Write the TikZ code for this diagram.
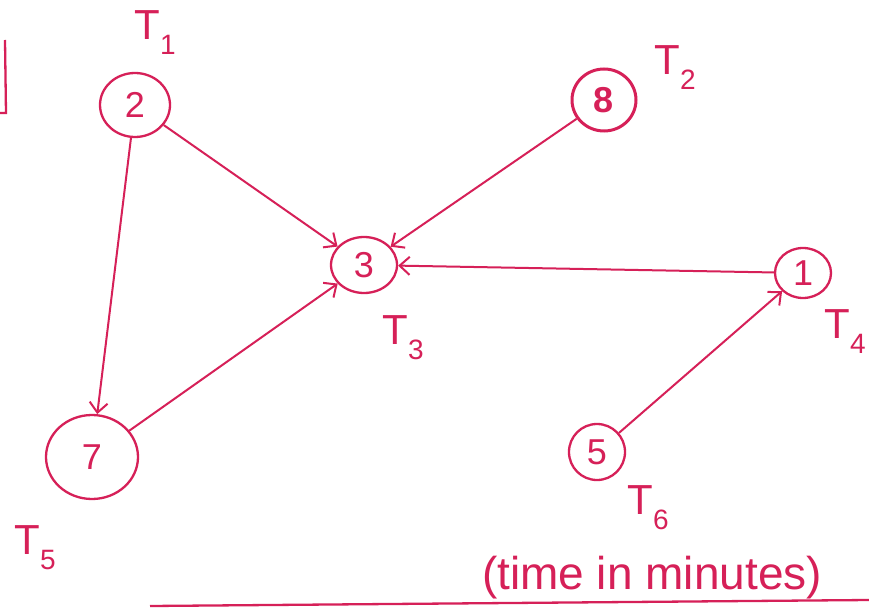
\documentclass[tikz,border=0pt]{standalone}
\usepackage{fontspec}
\setmainfont{Liberation Sans}
\usetikzlibrary{arrows.meta,shapes.geometric}
\definecolor{pen}{RGB}{214,32,88}
\newcommand{\tlab}[1]{\fontsize{42}{42}\selectfont T\raisebox{-15pt}{\fontsize{28}{28}\selectfont #1}}
\begin{document}
\begin{tikzpicture}[x=1pt,y=-1pt,
  task/.style={draw=pen, line width=2.3pt, ellipse, inner sep=0pt, text=pen, font=\fontsize{36}{36}\selectfont},
  link/.style={draw=pen, line width=2pt, -{Straight Barb[length=10pt,width=18pt]}},
  lab/.style={text=pen, inner sep=0pt}]
\useasboundingbox (0,0) rectangle (869,612);
\fill[white] (0,0) rectangle (869,612);
\node[task, minimum width=70pt, minimum height=64pt] (n2) at (135,105) {2};
\node[task, minimum width=64pt, minimum height=62pt, line width=3pt, font=\fontsize{36}{36}\selectfont\bfseries] (n8) at (604,100) {8};
\node[task, minimum width=66pt, minimum height=56pt] (n3) at (364,265) {3};
\node[task, minimum width=56pt, minimum height=50pt] (n1) at (803,273) {1};
\node[task, minimum width=92pt, minimum height=84pt] (n7) at (92,457) {7};
\node[task, minimum width=56pt, minimum height=56pt] (n5) at (597,452) {5};
\draw[link] (n2) -- (n3);
\draw[link] (n8) -- (n3);
\draw[link] (n1) -- (n3);
\draw[link] (n7) -- (n3);
\draw[link] (n2) -- (n7);
\draw[link] (n5) -- (n1);
\node[lab] (t1) at (155,33) {\tlab{1}};
\node[lab] (t2) at (675,68) {\tlab{2}};
\node[lab] (t3) at (403,338) {\tlab{3}};
\node[lab] (t4) at (845,332) {\tlab{4}};
\node[lab] (t5) at (35,548) {\tlab{5}};
\node[lab] (t6) at (648,508) {\tlab{6}};
\node[lab, font=\fontsize{46}{46}\selectfont] (note) at (652,578) {(time in minutes)};
\draw[pen, line width=2.3pt] (5,40) -- (6,113) -- (0,113);
\draw[pen, line width=2.3pt] (150,606) -- (869,600);
\end{tikzpicture}
\end{document}
